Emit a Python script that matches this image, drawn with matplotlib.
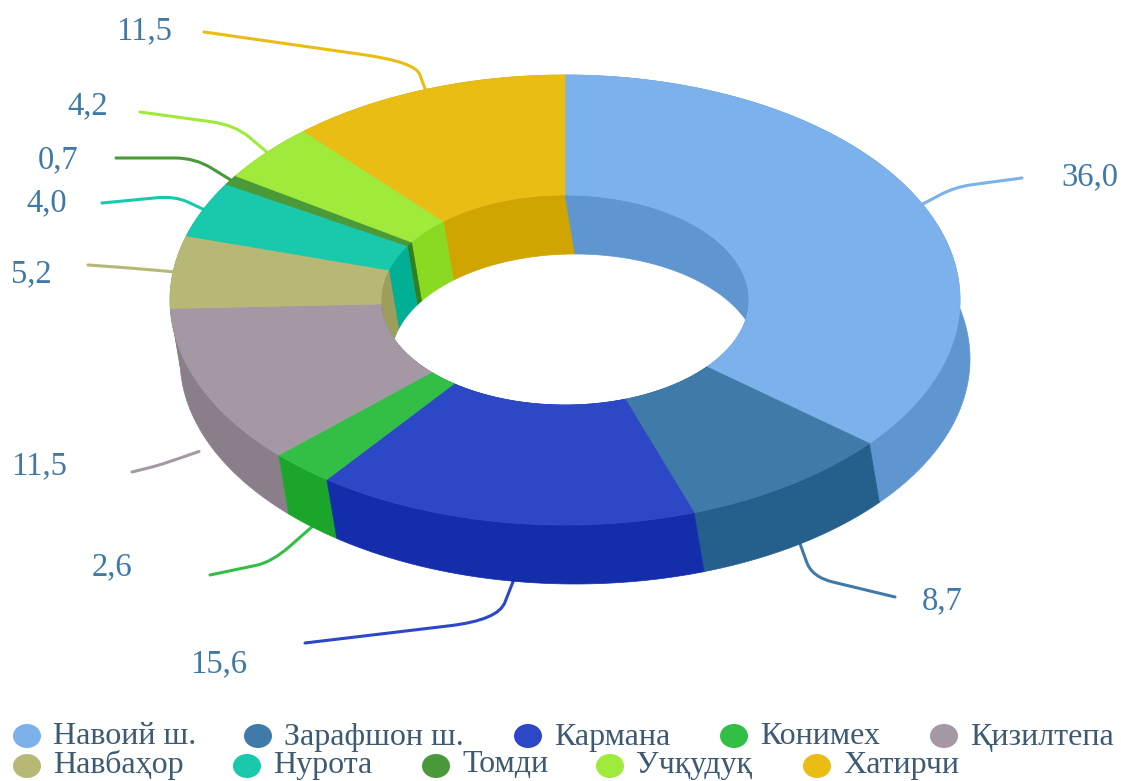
"""3D style donut: share by district, drawn as projected ring segments."""
import numpy as np
import matplotlib
matplotlib.use('Agg')
import matplotlib.pyplot as plt
from matplotlib.patches import Ellipse, PathPatch, Polygon
from matplotlib.path import Path

names = ['Навоий ш.', 'Зарафшон ш.', 'Кармана', 'Конимех', 'Қизилтепа',
         'Навбаҳор', 'Нурота', 'Томди', 'Учқудуқ', 'Хатирчи']
values = [36.0, 8.7, 15.6, 2.6, 11.5, 5.2, 4.0, 0.7, 4.2, 11.5]
labels = ['36,0', '8,7', '15,6', '2,6', '11,5', '5,2', '4,0', '0,7', '4,2', '11,5']

top_colors = ['#7CB1EC', '#3F7AA8', '#2C48C6', '#33BF45', '#A498A5',
              '#B8B876', '#19C9AC', '#4A9A3A', '#A0EA3B', '#EABD14']
side_colors = ['#6096D0', '#25608C', '#142EAB', '#1BA62B', '#8A7E8B',
               '#9E9E5C', '#00AF94', '#307F20', '#8ADA22', '#D1A500']

# ring geometry, pixels
CX, CY = 565, 300
RX, RY = 395, 225
IRX, IRY = 184, 105
DX, DY = 10, 59

# leader line corners, ends and label anchors
crooks = [(955, 187), (812, 577), (498, 620), (272, 562), (160, 465),
          (130, 268), (175, 196), (195, 158), (235, 125), (415, 62)]
ends = [(1022, 178), (895, 597), (305, 643), (210, 575), (132, 472),
        (88, 265), (102, 203), (116, 158), (140, 112), (204, 32)]
label_pos = [(1090, 177), (942, 601), (219, 664), (112, 567), (39, 466),
             (31, 274), (47, 203), (58, 160), (88, 106), (144, 31)]
# lines that leave from the lower rim, and the gap left at the ring
on_lower_rim = [False, True, True, True, True, False, False, False, False, False]
start_gap = [0, 0, 0, 0, 13, 0, 0, 0, 0, 0]

legend_rows = [[0, 1, 2, 3, 4], [5, 6, 7, 8, 9]]
legend_x = [[27, 258, 528, 734, 944], [27, 247, 436, 610, 817]]
legend_y = [736, 766]
legend_text_y = [737, 765]


def arc(rx, ry, a0, a1, dx=0, dy=0):
    t = np.linspace(a0, a1, max(int(abs(a1 - a0) * 80), 2))
    return np.column_stack([CX + dx + rx * np.sin(t), CY + dy - ry * np.cos(t)])


def leader(start, corner, end):
    # straight runs joined by a tight curve at the corner
    a = np.array(start, float)
    c = np.array(corner, float)
    b = np.array(end, float)
    p0 = c + (a - c) * 0.45
    p1 = c + (b - c) * 0.25
    verts = [a, p0, c, p1, b]
    return Path(verts, [Path.MOVETO, Path.LINETO, Path.CURVE3, Path.CURVE3, Path.LINETO])


edges = np.concatenate([[0], np.cumsum(values)]) / sum(values) * 2 * np.pi
mids = (edges[:-1] + edges[1:]) / 2

plt.rcParams['font.family'] = ['Liberation Serif', 'DejaVu Serif']

fig = plt.figure(figsize=(11.21, 7.81), dpi=100)
ax = fig.add_axes([0, 0, 1, 1])
ax.set_xlim(0, 1121)
ax.set_ylim(781, 0)
ax.axis('off')

# walls back to front, then the top face covers whatever is hidden
order = np.argsort(-np.cos(mids))
for i in order:
    a0, a1 = edges[i], edges[i + 1]
    outer = arc(RX, RY, a0, a1)
    outer_low = arc(RX, RY, a0, a1, DX, DY)
    ax.add_patch(Polygon(np.vstack([outer, outer_low[::-1]]), closed=True,
                         fc=side_colors[i], ec=side_colors[i], lw=0.5, zorder=2))
for i in order:
    a0, a1 = edges[i], edges[i + 1]
    inner = arc(IRX, IRY, a0, a1)
    inner_low = arc(IRX, IRY, a0, a1, DX, DY)
    ax.add_patch(Polygon(np.vstack([inner, inner_low[::-1]]), closed=True,
                         fc=side_colors[i], ec=side_colors[i], lw=0.5, zorder=3))
for i in range(len(values)):
    a0, a1 = edges[i], edges[i + 1]
    face = np.vstack([arc(RX, RY, a0, a1), arc(IRX, IRY, a0, a1)[::-1]])
    ax.add_patch(Polygon(face, closed=True, fc=top_colors[i], ec=top_colors[i],
                         lw=0.5, zorder=4))

# leader lines start at each segment's middle angle
for i in range(len(values)):
    dx = DX if on_lower_rim[i] else 0
    dy = DY if on_lower_rim[i] else 0
    start = (CX + dx + (RX + start_gap[i]) * np.sin(mids[i]),
             CY + dy - (RY + start_gap[i]) * np.cos(mids[i]))
    ax.add_patch(PathPatch(leader(start, crooks[i], ends[i]), fc='none', ec=top_colors[i],
                           lw=2.2, zorder=1, capstyle='round'))
    ax.text(label_pos[i][0], label_pos[i][1], labels[i], ha='center', va='center',
            fontsize=23.5, color='#3E79A8', zorder=6)

for row, xs, y, ty in zip(legend_rows, legend_x, legend_y, legend_text_y):
    for i, x in zip(row, xs):
        ax.add_patch(Ellipse((x, y), 28, 24, fc=top_colors[i], ec='none', zorder=5))
        ax.text(x + 26, ty, names[i], ha='left', va='center', fontsize=23,
                color='#3E5A72', zorder=6)

fig.savefig('out.png', dpi=100)
